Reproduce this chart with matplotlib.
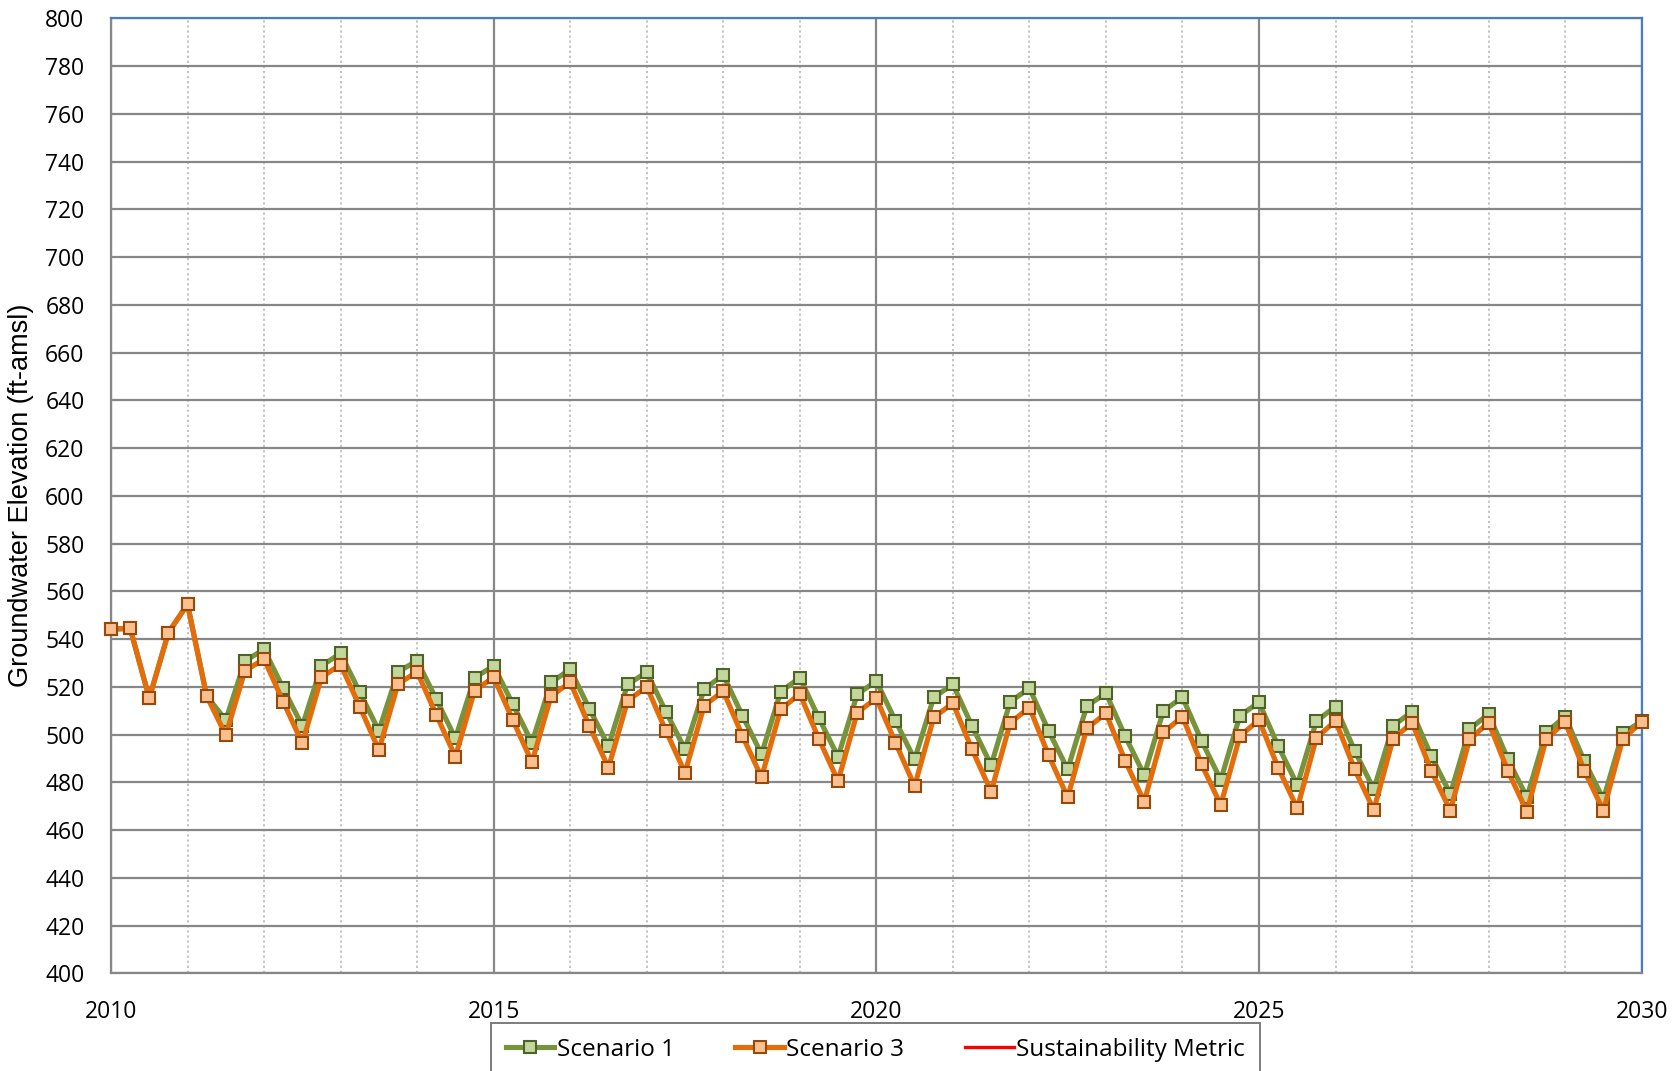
import matplotlib
matplotlib.use("Agg")
import matplotlib.pyplot as plt
from matplotlib.ticker import MultipleLocator
import numpy as np

# quarterly time axis (decimal years)
years = [2010 + 0.25 * i for i in range(81)]

scenario1 = [544.1, 544.5, 515.2, 542.7, 554.6, 516.1, 506.1, 530.8, 535.7, 519.4,
             503.6, 528.8, 534.0, 517.7, 501.6, 526.3, 530.9, 514.8, 498.4, 523.8,
             528.8, 512.7, 496.6, 521.9, 527.3, 510.8, 495.2, 521.0, 526.1, 509.6,
             493.8, 519.1, 524.9, 507.9, 491.8, 518.0, 523.8, 506.8, 490.7, 516.9,
             522.4, 505.7, 489.6, 515.6, 521.0, 503.6, 487.2, 513.8, 519.4, 501.6,
             485.4, 512.0, 517.3, 499.4, 483.1, 509.9, 515.6, 497.3, 481.0, 507.9,
             513.5, 495.2, 478.9, 505.7, 511.7, 493.2, 477.1, 503.7, 509.5, 491.0,
             475.1, 502.3, 508.6, 489.8, 473.7, 500.9, 507.5, 488.9, 472.9, 500.5,
             505.5]

scenario3 = [544.1, 544.5, 515.2, 542.7, 554.6, 516.1, 499.8, 526.7, 531.6, 513.8,
             496.3, 524.0, 529.3, 511.7, 493.5, 521.2, 526.3, 508.3, 490.7, 518.4,
             524.0, 506.1, 488.4, 516.1, 521.9, 503.6, 486.1, 514.2, 520.0, 501.6,
             484.0, 512.1, 518.2, 499.5, 482.1, 510.6, 517.0, 498.1, 480.5, 509.2,
             515.2, 496.6, 478.4, 507.2, 513.1, 493.8, 476.1, 505.0, 511.3, 491.4,
             473.7, 502.6, 508.9, 489.1, 471.9, 500.9, 507.5, 487.5, 470.5, 499.4,
             506.1, 486.1, 469.1, 498.7, 505.7, 485.4, 468.4, 498.1, 505.0, 484.9,
             468.1, 498.0, 505.0, 484.9, 467.7, 498.0, 505.3, 484.9, 468.1, 498.0,
             505.3]

# sustainability metric has no values inside the plotted window
sustain_x = []
sustain_y = []

x_ticks = [2010, 2015, 2020, 2025, 2030]
y_ticks = list(range(400, 801, 20))

tick_font = "Open Sans"
label_font = "Liberation Sans"

fig = plt.figure(figsize=(16.8, 10.71), dpi=100)
ax = fig.add_axes([111 / 1680, 1 - 973.3 / 1071, (1641.7 - 111) / 1680, (973.3 - 18.3) / 1071])

grid_gray = "#878787"
ax.set_xlim(2010, 2030)
ax.set_ylim(400, 800)
ax.set_xticks(x_ticks)
ax.set_yticks(y_ticks)
ax.xaxis.set_minor_locator(MultipleLocator(1))
ax.grid(which="major", axis="both", color=grid_gray, linewidth=1.6, zorder=0)
ax.grid(which="minor", axis="x", color="#BDBDBD", linewidth=1.3, linestyle=(0, (1.2, 1.6)), zorder=0)
ax.set_axisbelow(True)

ax.tick_params(which="both", length=0)
ax.tick_params(axis="y", pad=19)
ax.tick_params(axis="x", pad=19)
for lab in ax.get_xticklabels() + ax.get_yticklabels():
    lab.set_fontfamily(tick_font)
    lab.set_fontsize(16.5)

for side in ("left", "bottom"):
    ax.spines[side].set_color(grid_gray)
    ax.spines[side].set_linewidth(1.6)
for side in ("top", "right"):
    ax.spines[side].set_color("#4A7EBB")
    ax.spines[side].set_linewidth(1.6)

ax.set_ylabel("Groundwater Elevation (ft-amsl)", fontfamily=label_font, fontsize=19.5, labelpad=8)

ax.plot(years, scenario1, color="#77933C", linewidth=3.7, marker="s", markersize=8.5,
        markerfacecolor="#C3D69B", markeredgecolor="#4F6228", markeredgewidth=1.5,
        label="Scenario 1", zorder=3, clip_on=False)
ax.plot(years, scenario3, color="#E46C0A", linewidth=3.7, marker="s", markersize=8.5,
        markerfacecolor="#FAC090", markeredgecolor="#984807", markeredgewidth=1.5,
        label="Scenario 3", zorder=4, clip_on=False)
ax.plot(sustain_x, sustain_y, color="#FF0000", linewidth=2.4, label="Sustainability Metric", zorder=5)

leg = fig.legend(loc="upper center", bbox_to_anchor=(0.521, 1 - 1023 / 1071), ncol=3,
                 frameon=True, fancybox=False, edgecolor="#5A5A5A",
                 prop={"family": tick_font, "size": 17.5}, handlelength=2.0,
                 handletextpad=0.1, columnspacing=2.5, borderpad=0.6,
                 borderaxespad=0.0)
leg.get_frame().set_linewidth(1.4)

fig.savefig("out.png", dpi=100)
